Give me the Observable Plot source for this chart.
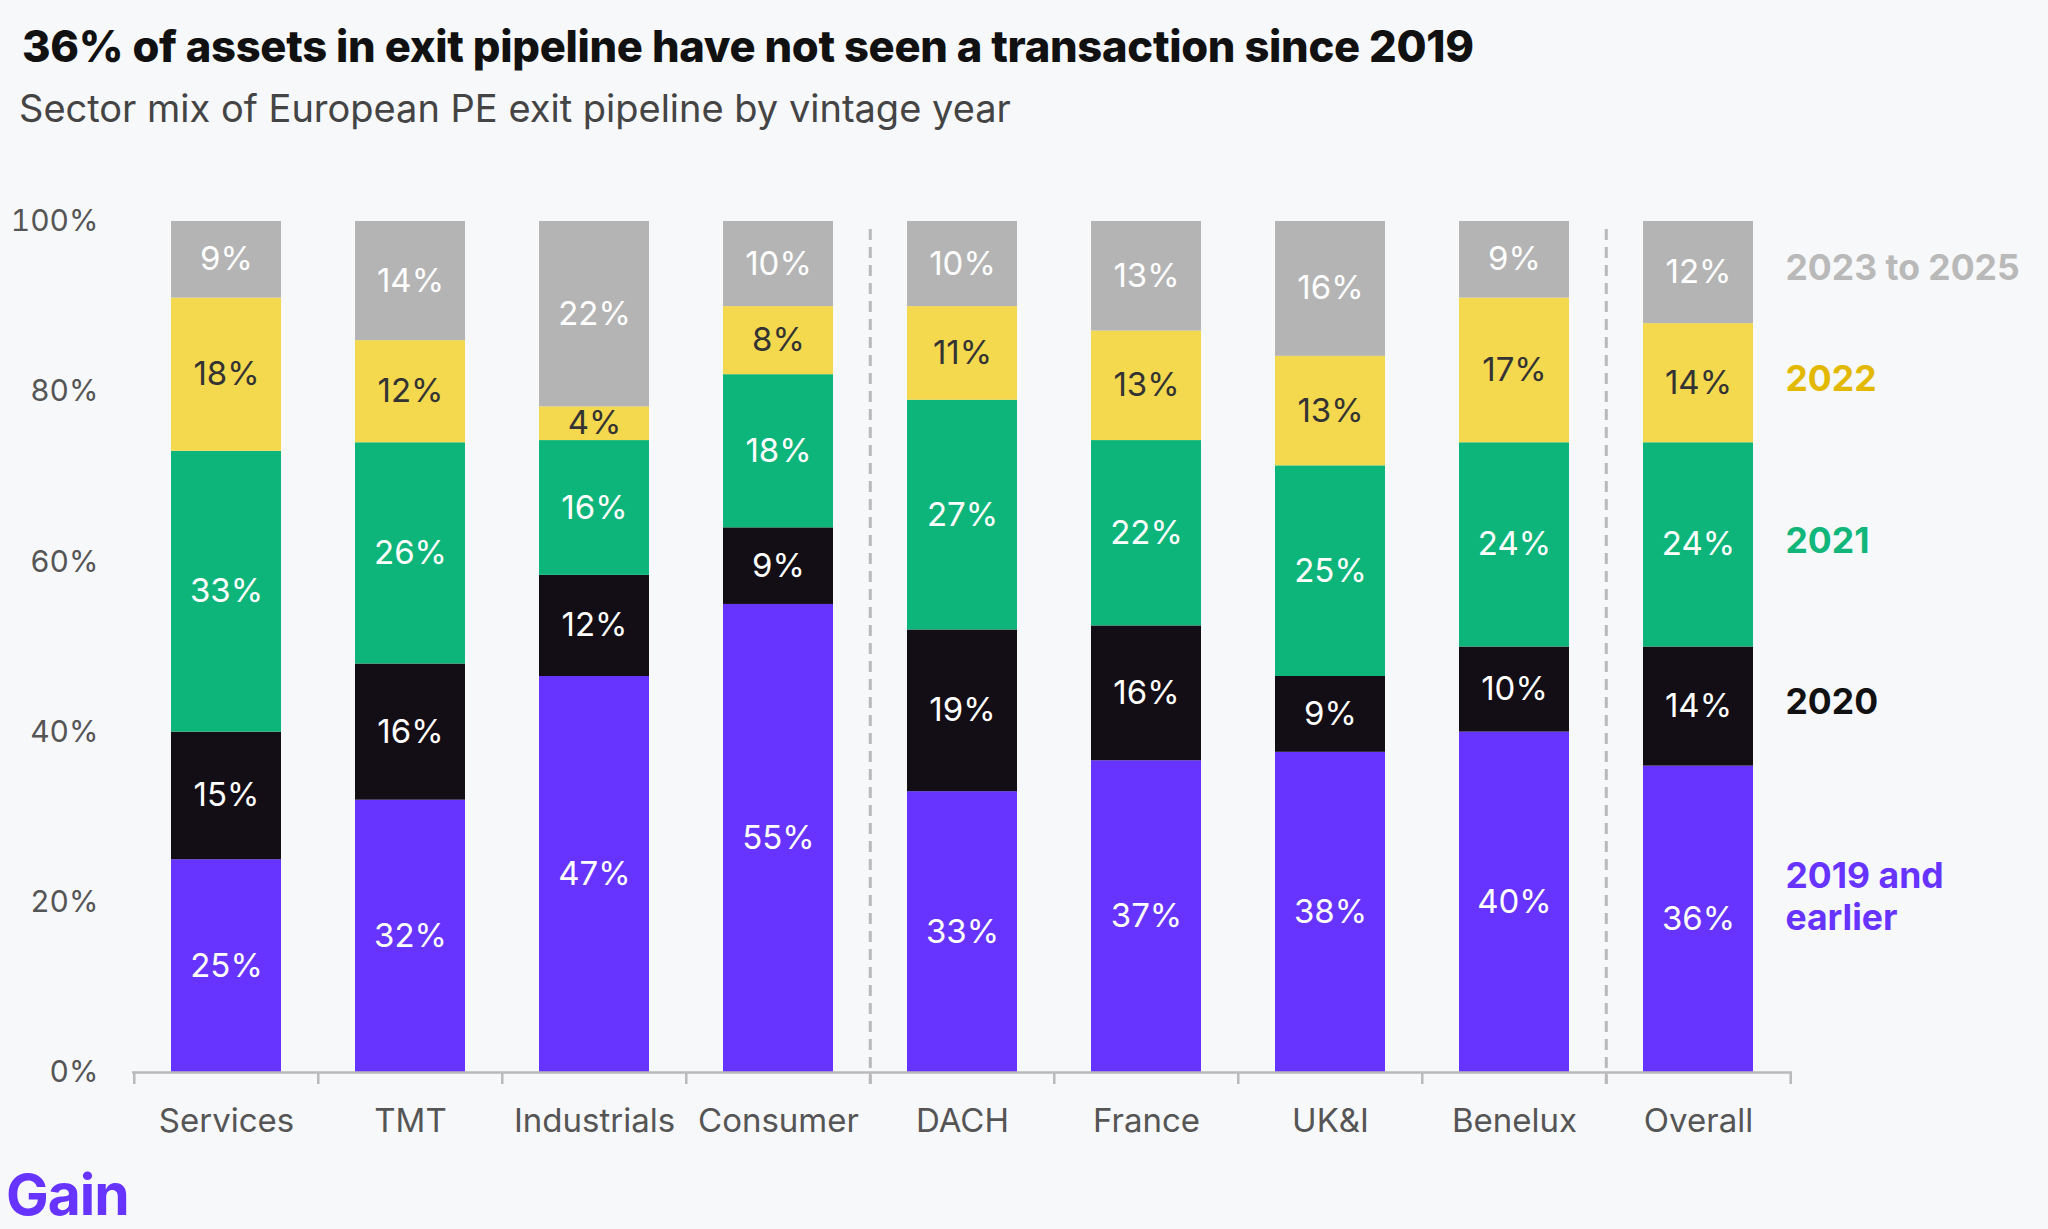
<!DOCTYPE html>
<html>
<head>
<meta charset="utf-8">
<script src="https://cdn.jsdelivr.net/npm/d3@7"></script>
<script src="https://cdn.jsdelivr.net/npm/@observablehq/plot@0.6"></script>
<style>
  html, body { margin: 0; padding: 0; background: #f7f8fa; }
  #wrap { position: relative; width: 2048px; height: 1229px; background: #f7f8fa; font-family: Inter, "Noto Sans", sans-serif; overflow: hidden; }
  #title { position: absolute; left: 22px; top: 25px; font-size: 43.5px; font-weight: 800; color: #111; line-height: 1; letter-spacing: -0.3px; white-space: nowrap; }
  #subtitle { position: absolute; left: 19px; top: 89px; font-size: 38px; font-weight: 400; color: #444; line-height: 1; white-space: nowrap; }
  #chart { position: absolute; left: 0; top: 150px; }
  #logo { position: absolute; left: 6px; top: 1166px; font-size: 57px; font-weight: 700; color: #6633ff; line-height: 1; letter-spacing: -1px; }
</style>
</head>
<body>
<div id="wrap">
  <div id="title">36% of assets in exit pipeline have not seen a transaction since 2019</div>
  <div id="subtitle">Sector mix of European PE exit pipeline by vintage year</div>
  <div id="chart"></div>
  <div id="logo">Gain</div>
</div>
<script>
const categories = ["Services", "TMT", "Industrials", "Consumer", "DACH", "France", "UK&I", "Benelux", "Overall"];
const series = ["2019 and earlier", "2020", "2021", "2022", "2023 to 2025"];
const legendLabels = ["2019 and\nearlier", "2020", "2021", "2022", "2023 to 2025"];
const v2019 = [25, 32, 47, 55, 33, 37, 38, 40, 36];
const v2020 = [15, 16, 12, 9, 19, 16, 9, 10, 14];
const v2021 = [33, 26, 16, 18, 27, 22, 25, 24, 24];
const v2022 = [18, 12, 4, 8, 11, 13, 13, 17, 14];
const v2023 = [9, 14, 22, 10, 10, 13, 16, 9, 12];
const separators = ["DACH", "Overall"];
const yTicks = [0, 0.2, 0.4, 0.6, 0.8, 1];

const barColors = ["#6633ff", "#130d15", "#0db57a", "#f4d84e", "#b3b4b3"];
const legendColors = ["#6633ff", "#111111", "#10b67a", "#e2b800", "#b8b9b8"];

const valuesBySeries = [v2019, v2020, v2021, v2022, v2023];
const long = [];
series.forEach((s, si) => {
  categories.forEach((c, ci) => {
    long.push({cat: c, series: s, v: valuesBySeries[si][ci]});
  });
});

const W = 2048, H = 1020;
const mL = 132, mR = 256, mT = 71, mB = 98;
const step = (W - mL - mR) / categories.length;

const stackOpts = {offset: "normalize"};

const marks = [
  Plot.barY(long, Plot.stackY(stackOpts, {x: "cat", y: "v", z: "series", fill: "series"})),
  // value labels (white)
  Plot.text(long, Plot.stackY(stackOpts, {
    x: "cat", y: "v", z: "series",
    text: d => d.series === "2022" ? null : d.v + "%",
    fill: "white", fontSize: 33, fontFamily: "Inter, sans-serif"
  })),
  // value labels on yellow (dark)
  Plot.text(long, Plot.stackY(stackOpts, {
    x: "cat", y: "v", z: "series",
    text: d => d.series === "2022" ? d.v + "%" : null,
    fill: "#333", fontSize: 33, fontFamily: "Inter, sans-serif"
  })),
  // baseline
  Plot.ruleY([0], {stroke: "#b9b9b9", strokeWidth: 2.5}),
  // boundary ticks
  Plot.ruleX(categories, {x: d => d, dx: -step / 2, y1: 0, y2: 0, insetBottom: -12, stroke: "#b9b9b9", strokeWidth: 2.5}),
  Plot.ruleX(categories.slice(-1), {x: d => d, dx: step / 2, y1: 0, y2: 0, insetBottom: -12, stroke: "#b9b9b9", strokeWidth: 2.5}),
  // dashed separators
  Plot.ruleX(separators, {x: d => d, dx: -step / 2, y1: 1, y2: 0, insetTop: 8, insetBottom: -12, stroke: "#b9b9b9", strokeWidth: 3, strokeDasharray: "11,7"}),
  Plot.axisY({ticks: yTicks, tickFormat: d => Math.round(d * 100) + "%", tickSize: 0, tickPadding: 34, fontSize: 30, color: "#555", fontFamily: "Inter, sans-serif", label: null}),
  Plot.axisX({tickSize: 0, tickPadding: 36, fontSize: 33, color: "#555", fontFamily: "Inter, sans-serif", label: null})
];

series.forEach((s, i) => {
  marks.push(Plot.text(long, Plot.stackY(stackOpts, {
    filter: d => d.cat === "Overall",
    x: "cat", y: "v", z: "series",
    text: d => d.series === s ? legendLabels[i] : null,
    fill: legendColors[i], dx: 87, dy: i === 0 ? -24 : -6,
    textAnchor: "start", fontWeight: 700, fontSize: 35.5, lineHeight: 1.2,
    fontFamily: "Inter, sans-serif"
  })));
});

const chart = Plot.plot({
  width: W, height: H,
  marginLeft: mL, marginRight: mR, marginTop: mT, marginBottom: mB,
  style: {background: "transparent", fontFamily: "Inter, sans-serif"},
  x: {domain: categories, paddingInner: 0.4, paddingOuter: 0.2, label: null, axis: null},
  y: {domain: [0, 1], label: null, axis: null},
  color: {domain: series, range: barColors},
  marks
});
document.getElementById("chart").appendChild(chart);
</script>
</body>
</html>
